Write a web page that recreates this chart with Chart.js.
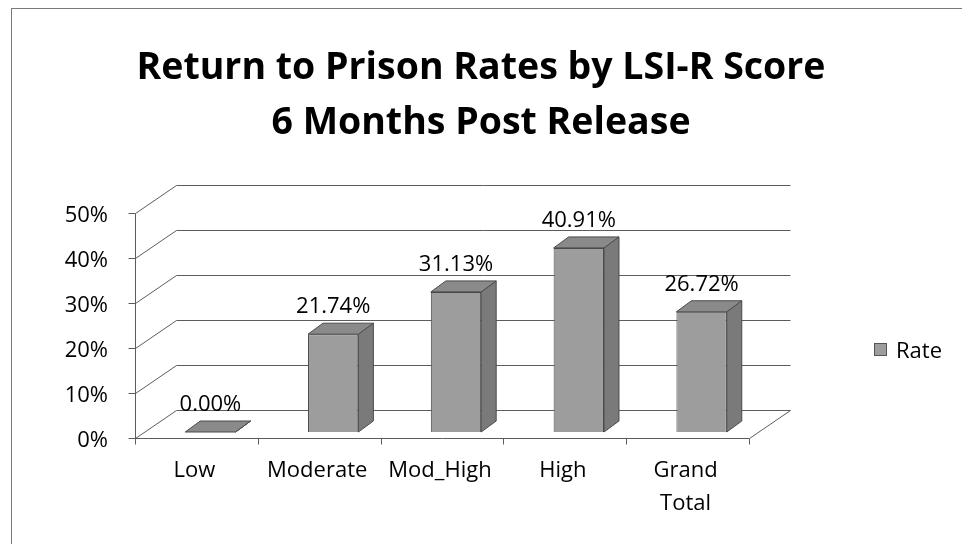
<!DOCTYPE html>
<html>
<head>
<meta charset="utf-8">
<script src="https://cdn.jsdelivr.net/npm/chart.js@4.4.1/dist/chart.umd.min.js"></script>
<style>
  html, body { margin: 0; padding: 0; background: #fff; }
  #wrap { position: relative; width: 962px; height: 544px; overflow: hidden; }
  #frame { position: absolute; left: 11px; top: 8px; right: -2px; bottom: -2px;
           border-left: 1px solid #7a7a7a; border-top: 1px solid #7a7a7a; pointer-events: none; }
  #legend { position: absolute; left: 874px; top: 334px; font: 22px 'Open Sans', sans-serif;
            color: #000; display: flex; align-items: center; }
  #legend .box { display: inline-block; width: 11px; height: 11px; margin-right: 9px; }
</style>
</head>
<body>
<div id="wrap">
  <canvas id="myChart" width="962" height="544"></canvas>
  <div id="frame"></div>
  <div id="legend"></div>
</div>
<script>
var categories = ['Low', 'Moderate', 'Mod_High', 'High', ['Grand', 'Total']];
var rates = [0.00, 21.74, 31.13, 40.91, 26.72];
var yTicks = [0, 10, 20, 30, 40, 50];
var seriesName = 'Rate';

// fake 3d: front plane, back wall and bar depth, relative to the bar plane
var FRONT = { dx: -14, dy: 6 };
var BACK = { dx: 27, dy: -22 };
var DEPTH = { dx: 15, dy: -11 };

function line(ctx, x1, y1, x2, y2) {
  ctx.beginPath();
  ctx.moveTo(Math.round(x1) + 0.5, Math.round(y1) + 0.5);
  ctx.lineTo(Math.round(x2) + 0.5, Math.round(y2) + 0.5);
  ctx.stroke();
}

function poly(ctx, pts, fill) {
  ctx.beginPath();
  ctx.moveTo(pts[0][0], pts[0][1]);
  for (var i = 1; i < pts.length; i++) ctx.lineTo(pts[i][0], pts[i][1]);
  ctx.closePath();
  ctx.fillStyle = fill;
  ctx.fill();
  ctx.stroke();
}

const walls = {
  id: 'walls',
  beforeDatasetsDraw(chart) {
    const ctx = chart.ctx, a = chart.chartArea, x = chart.scales.x, y = chart.scales.y;
    ctx.save();
    ctx.strokeStyle = '#5c5c5c';
    ctx.lineWidth = 1;
    yTicks.forEach(v => {
      const py = y.getPixelForValue(v);
      line(ctx, a.left + BACK.dx, py + BACK.dy, a.right + BACK.dx, py + BACK.dy);
      line(ctx, a.left + FRONT.dx, py + FRONT.dy, a.left + BACK.dx, py + BACK.dy);
      line(ctx, a.left + FRONT.dx - 7, py + FRONT.dy, a.left + FRONT.dx, py + FRONT.dy);
    });
    const y0 = y.getPixelForValue(yTicks[0]);
    const yTop = y.getPixelForValue(yTicks[yTicks.length - 1]);
    line(ctx, a.left + FRONT.dx, y0 + FRONT.dy, a.left + FRONT.dx, yTop + FRONT.dy);
    line(ctx, a.left + FRONT.dx, y0 + FRONT.dy, a.right + FRONT.dx, y0 + FRONT.dy);
    line(ctx, a.right + FRONT.dx, y0 + FRONT.dy, a.right + BACK.dx, y0 + BACK.dy);
    const step = x.getPixelForValue(1) - x.getPixelForValue(0);
    for (let i = 0; i <= categories.length; i++) {
      const px = x.getPixelForValue(0) - step / 2 + i * step + FRONT.dx;
      line(ctx, px, y0 + FRONT.dy, px, y0 + FRONT.dy + 6);
    }
    ctx.restore();
  },
  afterDatasetsDraw(chart) {
    const ctx = chart.ctx;
    const meta = chart.getDatasetMeta(0);
    ctx.save();
    ctx.strokeStyle = '#4a4a4a';
    ctx.lineWidth = 1;
    meta.data.forEach((bar, i) => {
      const p = bar.getProps(['x', 'y', 'base', 'width'], true);
      const l = p.x - p.width / 2, r = p.x + p.width / 2;
      poly(ctx, [[r, p.y], [r + DEPTH.dx, p.y + DEPTH.dy], [r + DEPTH.dx, p.base + DEPTH.dy], [r, p.base]], '#7a7a7a');
      poly(ctx, [[l, p.y], [r, p.y], [r + DEPTH.dx, p.y + DEPTH.dy], [l + DEPTH.dx, p.y + DEPTH.dy]], '#8a8a8a');
      ctx.fillStyle = '#000';
      ctx.font = "22px 'Open Sans', sans-serif";
      ctx.textAlign = 'center';
      ctx.textBaseline = 'middle';
      ctx.fillText(rates[i].toFixed(2) + '%', p.x, p.y - 27);
    });
    ctx.restore();
  }
};

const htmlLegend = {
  id: 'htmlLegend',
  afterUpdate(chart) {
    const box = document.getElementById('legend');
    box.innerHTML = '';
    Chart.defaults.plugins.legend.labels.generateLabels(chart).forEach(item => {
      const sw = document.createElement('span');
      sw.className = 'box';
      sw.style.background = item.fillStyle;
      sw.style.border = '1px solid #555';
      box.appendChild(sw);
      box.appendChild(document.createTextNode(item.text));
    });
  }
};

Chart.defaults.font.family = "'Open Sans', sans-serif";
Chart.defaults.color = '#000';

const config = {
  type: 'bar',
  data: {
    labels: categories,
    datasets: [{
      label: seriesName,
      data: rates,
      backgroundColor: '#9d9d9d',
      borderColor: '#4a4a4a',
      borderWidth: 1,
      barPercentage: 0.41,
      categoryPercentage: 1.0
    }]
  },
  options: {
    responsive: false,
    animation: false,
    layout: { padding: 0 },
    scales: {
      x: {
        grid: { display: false, drawTicks: false },
        border: { display: false },
        ticks: { font: { size: 22, lineHeight: 1.5 }, padding: 22, labelOffset: -16, maxRotation: 0 },
        afterFit: s => { s.height = 112; }
      },
      y: {
        min: 0,
        max: 50,
        grid: { display: false, drawTicks: false },
        border: { display: false },
        ticks: {
          stepSize: 10,
          padding: 41,
          labelOffset: 9,
          font: { size: 22 },
          callback: v => v + '%'
        },
        afterFit: s => { s.width = 149; }
      },
      // empty room on the right where the legend sits
      side: {
        type: 'linear',
        position: 'right',
        grid: { display: false, drawTicks: false },
        border: { display: false },
        ticks: { display: false },
        afterFit: s => { s.width = 199; }
      }
    },
    plugins: {
      legend: { display: false },
      tooltip: { enabled: false },
      title: {
        display: true,
        text: ['Return to Prison Rates by LSI-R Score', '6 Months Post Release'],
        font: { size: 37.5, weight: 'bold', lineHeight: 1.467 },
        color: '#000',
        padding: { top: 41, bottom: 56 }
      }
    }
  },
  plugins: [walls, htmlLegend]
};

const myChart = new Chart(document.getElementById('myChart'), config);
</script>
</body>
</html>
